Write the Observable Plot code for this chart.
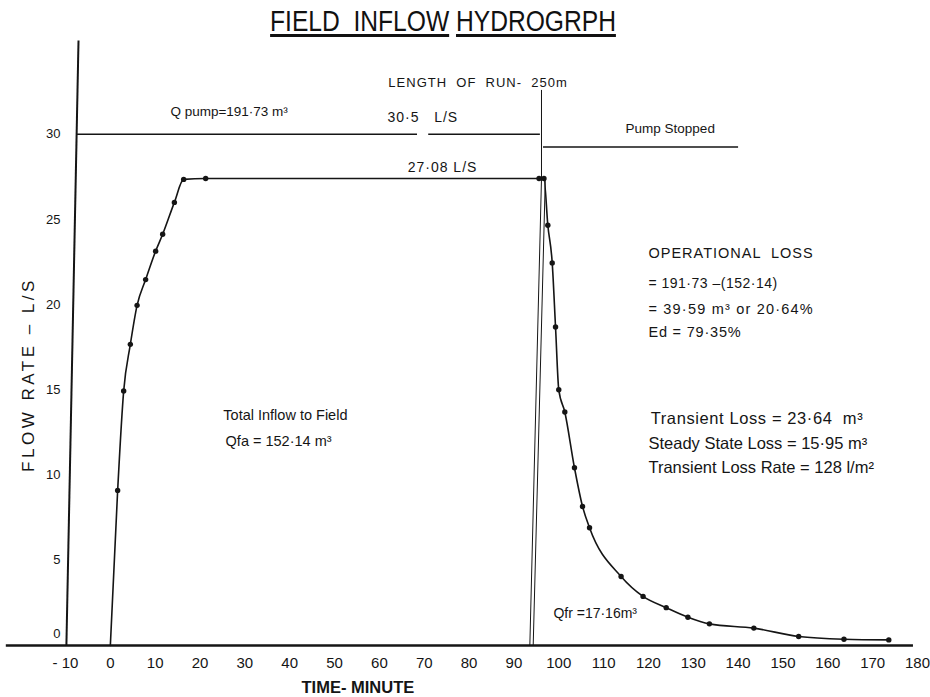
<!DOCTYPE html>
<html>
<head>
<meta charset="utf-8">
<script src="https://cdn.jsdelivr.net/npm/d3@7"></script>
<script src="https://cdn.jsdelivr.net/npm/@observablehq/plot@0.6"></script>
<style>
  html, body { margin: 0; padding: 0; background: #fff; }
  #wrap { position: relative; width: 930px; height: 697px; }
  #title {
    position: absolute; left: 0; top: 6px; width: 886px; text-align: center;
    font-family: "Liberation Sans", Arial, sans-serif;
    font-size: 30px; line-height: 30px; color: #111;
    transform: scaleX(0.82); transform-origin: 443px 0;
  }
  #title u { text-decoration-thickness: 3px; text-underline-offset: 3px; }
</style>
</head>
<body>
<div id="wrap">
  <div id="chart"></div>
  <div id="title"><u>FIELD&nbsp;&nbsp;INFLOW</u>&nbsp;<u>HYDROGRPH</u></div>
</div>
<script>
// ---- data ----
const times = [0, 1.63, 2.97, 4.46, 5.96, 7.87, 10.1, 11.67, 14.28, 16.35, 21.26,
  95.6, 96.7, 97.56, 98.54, 99.28, 100.0, 101.35, 103.5, 105.3, 106.86, 113.9,
  118.8, 123.96, 128.8, 133.6, 143.5, 153.5, 163.6, 173.6];
const flows = [0, 9.10, 14.93, 17.67, 19.96, 21.47, 23.14, 24.13, 26.0, 27.35, 27.4,
  27.4, 27.4, 24.66, 22.45, 18.69, 15.01, 13.70, 10.43, 8.16, 6.91, 4.05,
  2.88, 2.22, 1.66, 1.27, 1.02, 0.53, 0.37, 0.33];

const xTicks = [-10, 0, 10, 20, 30, 40, 50, 60, 70, 80, 90, 100, 110, 120, 130, 140, 150, 160, 170, 180];
const yTicks = [5, 10, 15, 20, 25, 30];

// reference / construction lines (time, flow)
const pumpRateLine = [{x1: -7.5, x2: 68.5, y: 30}, {x1: 71, x2: 95.9, y: 30}];
const pumpStoppedLine = [{x1: 96.6, x2: 140.1, y: 29.25}];
const runLines = [
  {x1: 96.15, y1: 32.6, x2: 96.15, y2: 27.4},
  {x1: 96.15, y1: 27.4, x2: 93.55, y2: 0},
  {x1: 97.0, y1: 27.4, x2: 94.3, y2: 0}
];
const axisLines = [{x1: -9.8, y1: 0, x2: -7.1, y2: 35.5}];
const baseLine = [{x1: -23.2, x2: 179.1, y: 0}];

const labels = [
  {text: "Q pump=191·73 m³", t: 13.4, q: 31.3, size: 13.5},
  {text: "LENGTH  OF  RUN-  250m", t: 62.0, q: 33.0, size: 13},
  {text: "30·5   L/S", t: 61.8, q: 31.0, size: 14},
  {text: "27·08 L/S", t: 66.3, q: 28.05, size: 14},
  {text: "Pump Stopped", t: 114.9, q: 30.3, size: 13.5},
  {text: "OPERATIONAL  LOSS", t: 120.0, q: 23.0, size: 14.5},
  {text: "= 191·73 –(152·14)", t: 120.0, q: 21.24, size: 14},
  {text: "= 39·59 m³ or 20·64%", t: 120.0, q: 19.72, size: 14.5},
  {text: "Ed = 79·35%", t: 120.0, q: 18.37, size: 14.5},
  {text: "Transient Loss = 23·64  m³", t: 120.5, q: 13.32, size: 16.5},
  {text: "Steady State Loss = 15·95 m³", t: 120.0, q: 11.85, size: 16.5},
  {text: "Transient Loss Rate = 128 l/m²", t: 120.0, q: 10.45, size: 16.5},
  {text: "Total Inflow to Field", t: 25.2, q: 13.5, size: 14.5},
  {text: "Qfa = 152·14 m³", t: 25.7, q: 11.97, size: 14.5},
  {text: "Qfr =17·16m³", t: 98.8, q: 1.88, size: 14}
];
const yTitle = [{text: "FLOW RATE – L/S", t: -18.25, q: 15.9}];
const xTitle = [{text: "TIME- MINUTE", t: 55.2, q: -2.46}];

// letter spacing (style only) keyed by label text
const spacing = {
  "LENGTH  OF  RUN-  250m": 1,
  "30·5   L/S": 1,
  "27·08 L/S": 1,
  "OPERATIONAL  LOSS": 1,
  "= 191·73 –(152·14)": 0.5,
  "= 39·59 m³ or 20·64%": 1.2,
  "Ed = 79·35%": 0.8,
  "Transient Loss = 23·64  m³": 0.6,
  "FLOW RATE – L/S": 3.5
};

// ---- build ----
const hydro = times.map((t, i) => ({t, q: flows[i]}));
const ink = "#151515";

const chart = Plot.plot({
  width: 930,
  height: 697,
  marginLeft: 65,
  marginRight: 13,
  marginTop: 40,
  marginBottom: 52,
  style: {background: "#fff", color: ink, fontFamily: "'Liberation Sans', Arial, sans-serif"},
  x: {domain: [-10, 180]},
  y: {domain: [0, 35.5]},
  marks: [
    Plot.axisX(xTicks, {tickSize: 0, tickPadding: 12, fontSize: 15, label: null,
      tickFormat: d => d < 0 ? "- " + Math.abs(d) : String(d)}),
    Plot.axisY(yTicks, {tickSize: 0, tickPadding: 5, fontSize: 13, label: null}),
    Plot.axisY([0], {tickSize: 0, tickPadding: 5, fontSize: 13, label: null, dy: -12}),
    Plot.ruleY(baseLine, {y: "y", x1: "x1", x2: "x2", stroke: ink, strokeWidth: 2.6}),
    Plot.link(axisLines, {x1: "x1", y1: "y1", x2: "x2", y2: "y2", stroke: ink, strokeWidth: 2}),
    Plot.ruleY(pumpRateLine, {y: "y", x1: "x1", x2: "x2", stroke: ink, strokeWidth: 1.4}),
    Plot.ruleY(pumpStoppedLine, {y: "y", x1: "x1", x2: "x2", stroke: ink, strokeWidth: 1.4}),
    Plot.link(runLines, {x1: "x1", y1: "y1", x2: "x2", y2: "y2", stroke: ink, strokeWidth: 1}),
    Plot.line(hydro, {x: "t", y: "q", curve: "monotone-x", stroke: ink, strokeWidth: 1.6}),
    Plot.dot(hydro.slice(1), {x: "t", y: "q", r: 2.7, fill: ink, stroke: null}),
    Plot.text(labels, {x: "t", y: "q", text: "text", fontSize: d => d.size, textAnchor: "start", fill: ink}),
    Plot.text(yTitle, {x: "t", y: "q", text: "text", rotate: -90, fontSize: 17, fill: ink}),
    Plot.text(xTitle, {x: "t", y: "q", text: "text", fontSize: 16.5, fontWeight: "bold", fill: ink})
  ]
});
d3.select(chart).selectAll("text").each(function () {
  const s = spacing[this.textContent];
  if (s != null) this.setAttribute("letter-spacing", s);
});
document.getElementById("chart").appendChild(chart);
</script>
</body>
</html>
